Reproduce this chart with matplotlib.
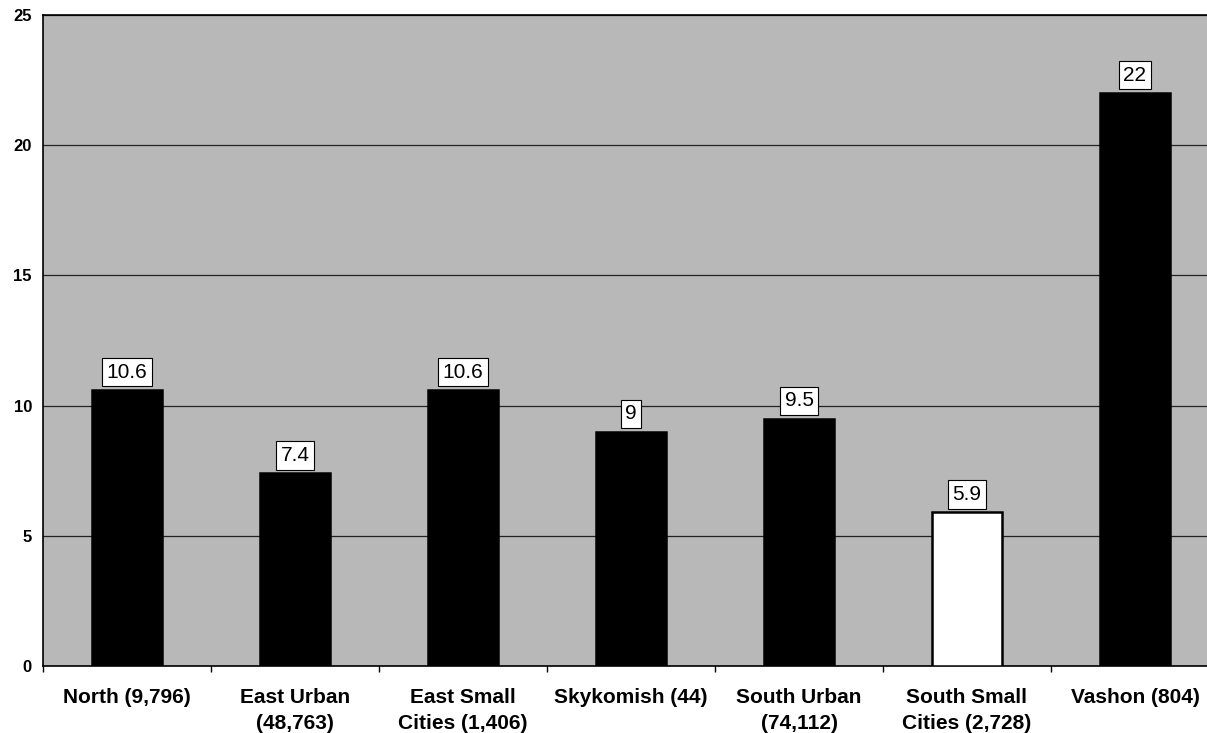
import numpy as np
import matplotlib.pyplot as plt
from matplotlib.ticker import FixedLocator

categories = ["North (9,796)", "East Urban\n(48,763)", "East Small\nCities (1,406)",
              "Skykomish (44)", "South Urban\n(74,112)", "South Small\nCities (2,728)",
              "Vashon (804)"]
values = [10.6, 7.4, 10.6, 9, 9.5, 5.9, 22]
value_labels = ["10.6", "7.4", "10.6", "9", "9.5", "5.9", "22"]
bar_colors = ["black", "black", "black", "black", "black", "white", "black"]
yticks = [0, 5, 10, 15, 20, 25]

plt.rcParams['font.family'] = ['Liberation Sans', 'DejaVu Sans']

W, H = 1207, 733
fig = plt.figure(figsize=(W / 100, H / 100), dpi=100)
# axes runs a little past the right edge of the figure, like the scan
left, right, top, bottom = 43, 1219, 15, 666
ax = fig.add_axes([left / W, 1 - bottom / H, (right - left) / W, (bottom - top) / H])
ax.set_facecolor('#b8b8b8')

x = np.arange(len(categories))
ax.bar(x, values, width=0.42, color=bar_colors, edgecolor='black', linewidth=1.8, zorder=3)

for xi, v, lab in zip(x, values, value_labels):
    ax.annotate(lab, (xi, v), xytext=(0, 6), textcoords='offset points',
                ha='center', va='bottom', fontsize=15, zorder=4,
                bbox=dict(boxstyle='square,pad=0.22', facecolor='white',
                          edgecolor='black', linewidth=0.8))

ax.set_xlim(-0.5, len(categories) - 0.5)
ax.set_ylim(0, 25)
ax.set_yticks(yticks)
ax.set_yticklabels([str(t) for t in yticks], fontsize=12, fontweight='bold')
ax.yaxis.grid(True, color='#222222', linewidth=0.9, zorder=1)
ax.set_axisbelow(True)
ax.tick_params(axis='y', length=0, pad=8)

ax.set_xticks(x)
ax.set_xticklabels(categories, fontsize=15, fontweight='bold', linespacing=1.42)
ax.tick_params(axis='x', which='major', length=0, pad=16)
ax.xaxis.set_minor_locator(FixedLocator(np.arange(-0.5, len(categories), 1.0)))
ax.tick_params(axis='x', which='minor', length=4, width=1, direction='out')

for side in ['left', 'top', 'bottom']:
    ax.spines[side].set_color('black')
    ax.spines[side].set_linewidth(1.2)
ax.spines['right'].set_visible(False)

fig.savefig('out.png', dpi=100)
